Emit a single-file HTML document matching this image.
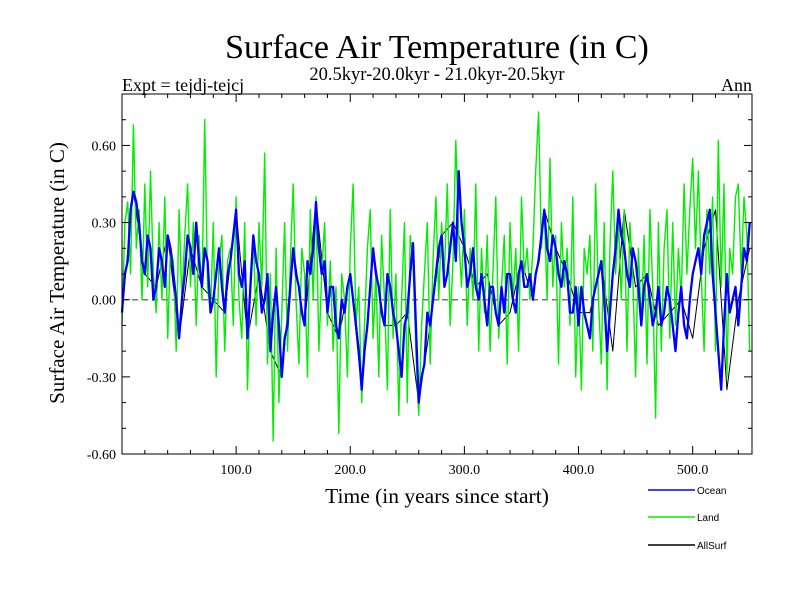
<!DOCTYPE html>
<html><head><meta charset="utf-8"><style>
body{margin:0;background:#fff;}
svg{display:block;font-family:"Liberation Serif",serif;}
</style></head><body>
<svg id="c" width="800" height="600">
<text x="437" y="58" text-anchor="middle" font-size="34">Surface Air Temperature (in C)</text>
<text x="437" y="80" text-anchor="middle" font-size="18.5">20.5kyr-20.0kyr - 21.0kyr-20.5kyr</text>
<text x="122" y="91" font-size="18">Expt = tejdj-tejcj</text>
<text x="752" y="91" text-anchor="end" font-size="18">Ann</text>
<text transform="translate(64,273) rotate(-90)" text-anchor="middle" font-size="21">Surface Air Temperature (in C)</text>
<text x="437" y="503" text-anchor="middle" font-size="21.5">Time (in years since start)</text>
<g id="plot"></g>
<g id="axes"></g>
<g id="legend" font-family="Liberation Sans, sans-serif" font-size="10"></g>
</svg>
<script>
const yTicks=[0.6,0.3,0.0,-0.3,-0.6];
const yTickLabels=["0.60","0.30","0.00","-0.30","-0.60"];
const xTicks=[100,200,300,400,500];
const xTickLabels=["100.0","200.0","300.0","400.0","500.0"];
const greenStep=2.5;
const landVals=[-0.1,0.3,0.38,0.1,0.68,0.2,0.35,0.0,0.45,0.05,0.5,0.1,-0.05,0.3,0.0,0.4,-0.15,0.2,0.15,-0.2,0.35,0.0,0.25,0.45,0.05,0.3,-0.1,0.25,0.0,0.7,0.05,-0.05,0.3,-0.3,0.15,0.25,-0.2,0.15,0.2,-0.1,0.4,0.0,-0.15,0.3,-0.35,0.1,0.25,-0.1,0.3,0.05,0.57,-0.25,0.1,-0.55,0.2,-0.4,-0.05,0.3,-0.2,0.15,0.45,0.0,-0.25,0.2,0.1,-0.3,0.35,0.0,0.4,-0.2,0.1,0.3,-0.1,0.15,-0.2,0.05,-0.52,0.1,0.0,-0.3,0.2,0.45,-0.1,0.05,-0.4,-0.1,0.2,0.35,-0.15,0.1,-0.3,0.25,0.0,-0.35,0.35,-0.15,0.1,-0.45,0.0,0.3,-0.4,0.25,0.15,-0.2,-0.45,-0.1,0.1,0.3,-0.25,0.15,0.4,0.0,0.3,0.1,0.45,-0.1,0.15,0.62,0.25,0.05,0.35,-0.1,0.2,0.0,0.45,-0.2,0.2,-0.05,0.25,-0.2,0.1,0.4,-0.15,0.05,0.25,-0.25,0.3,0.0,0.2,-0.2,0.4,0.1,0.2,0.0,0.2,0.5,0.73,0.2,0.35,0.0,0.55,0.05,0.25,-0.25,0.3,0.05,0.2,-0.1,0.4,-0.3,0.05,-0.35,0.2,0.1,0.25,-0.2,0.45,0.0,-0.25,0.3,-0.35,0.2,0.5,0.1,0.3,0.0,0.35,-0.2,0.3,0.1,-0.3,0.2,-0.1,0.25,-0.25,0.35,0.05,-0.46,0.3,-0.2,0.2,0.35,-0.15,0.3,-0.1,0.2,0.0,0.45,0.1,0.35,0.55,0.2,0.5,0.1,-0.2,0.35,0.1,0.4,-0.2,0.62,0.05,0.45,-0.3,0.2,0.1,0.4,0.45,0.1,0.4,0.25,-0.2];
const blueStep=2.5;
const oceanVals=[-0.05,0.1,0.15,0.35,0.42,0.38,0.3,0.15,0.1,0.25,0.2,0.0,0.05,0.2,0.15,0.05,0.25,0.2,0.1,0.0,-0.15,0.0,0.1,0.25,0.2,0.1,0.3,0.15,0.05,0.2,0.15,-0.05,0.0,0.1,0.2,0.05,-0.05,0.1,0.15,0.25,0.35,0.1,0.05,0.15,-0.15,0.05,0.25,0.15,0.1,-0.05,0.0,0.1,-0.2,-0.05,0.05,-0.1,-0.3,-0.15,-0.1,0.05,0.2,0.1,0.05,-0.05,-0.1,0.15,0.1,0.2,0.38,0.2,0.1,0.15,-0.05,0.05,0.05,-0.1,-0.15,0.0,-0.05,0.05,0.1,0.0,-0.1,-0.2,-0.35,-0.2,-0.1,0.05,0.2,0.1,0.05,-0.05,-0.1,0.1,0.05,-0.05,-0.1,-0.2,-0.3,-0.1,-0.05,0.1,0.22,-0.1,-0.4,-0.3,-0.25,-0.05,-0.1,0.0,0.1,0.2,0.25,0.05,0.1,0.2,0.3,0.15,0.5,0.3,0.2,0.05,0.1,0.2,0.05,0.0,0.1,0.0,-0.1,0.05,0.05,-0.05,-0.1,0.05,-0.05,0.1,0.1,0.0,-0.05,0.1,0.15,0.05,0.05,0.1,0.0,0.1,0.15,0.25,0.35,0.2,0.15,0.25,0.2,0.1,0.05,0.15,0.1,-0.05,-0.05,0.05,-0.1,0.05,-0.05,-0.1,-0.15,0.0,0.05,0.1,0.15,0.0,-0.2,-0.05,0.1,0.2,0.35,0.25,0.2,0.1,0.05,0.2,0.15,0.05,-0.1,0.05,0.1,0.0,-0.1,-0.05,0.05,-0.1,-0.05,0.05,0.0,-0.1,-0.2,-0.05,0.05,-0.1,-0.15,0.0,0.1,0.15,0.2,0.1,0.25,0.3,0.35,0.1,-0.05,-0.2,-0.35,-0.1,0.1,-0.05,0.0,0.05,-0.1,0.05,0.2,0.15,0.3];
const allStep=10;
const allVals=[-0.05,0.42,0.1,0.05,0.25,-0.15,0.2,0.05,0.0,-0.05,0.35,-0.15,0.1,-0.2,-0.3,0.2,-0.1,0.38,-0.05,-0.15,0.1,-0.35,0.2,-0.1,-0.1,-0.05,-0.4,-0.1,0.25,0.3,0.2,0.05,0.1,-0.1,-0.05,0.15,0.0,0.35,0.2,0.1,-0.05,-0.05,0.15,-0.2,0.35,0.05,0.1,-0.1,-0.05,0.0,-0.15,0.2,0.35,-0.35,0.0,0.2];
const X0=122,X1=752,Y0=94,Y1=454,XMIN=0,XMAX=552,YMIN=-0.6,YMAX=0.8;
const sx=v=>X0+(v-XMIN)/(XMAX-XMIN)*(X1-X0);
const sy=v=>Y1-(v-YMIN)/(YMAX-YMIN)*(Y1-Y0);
const NS="http://www.w3.org/2000/svg";
function mk(t,a,p){const e=document.createElementNS(NS,t);for(const k in a)e.setAttribute(k,a[k]);p.appendChild(e);return e;}
const plot=document.getElementById('plot'),axes=document.getElementById('axes'),leg=document.getElementById('legend');
const zl=mk('line',{x1:X0,x2:X1,y1:sy(0),y2:sy(0),stroke:'#777','stroke-width':1.5,'stroke-dasharray':'6,4'},plot);


function series(vals,step,color,w,name){
 const d=vals.map((v,i)=>(i?'L':'M')+sx(i*step).toFixed(1)+','+sy(v).toFixed(1)).join('');
 const p=mk('path',{d:d,fill:'none',stroke:color,'stroke-width':w,'stroke-linejoin':'round'},plot);
 
 
}
series(allVals,allStep,'#000',1,'allsurf-line');
series(landVals,greenStep,'#00ee00',1.4,'land-line');
series(oceanVals,blueStep,'#0000ff',2.3,'ocean-line');
const fr=mk('rect',{x:X0,y:Y0,width:X1-X0,height:Y1-Y0,fill:'none',stroke:'#000','stroke-width':1},axes);


for(let v=-0.6;v<=0.8001;v+=0.1){const y=sy(v);const maj=yTicks.some(t=>Math.abs(t-v)<1e-6);const L=maj?8:4;
 mk('line',{x1:X0,x2:X0+L,y1:y,y2:y,stroke:'#000'},axes);mk('line',{x1:X1,x2:X1-L,y1:y,y2:y,stroke:'#000'},axes);}
for(let v=20;v<XMAX;v+=20){const x=sx(v);const maj=v%100===0;const L=maj?8:4;
 mk('line',{x1:x,x2:x,y1:Y1,y2:Y1-L,stroke:'#000'},axes);mk('line',{x1:x,x2:x,y1:Y0,y2:Y0+L,stroke:'#000'},axes);}
yTicks.forEach((v,i)=>{const t=mk('text',{x:X0-6,y:sy(v)+5,'text-anchor':'end','font-size':14},axes);t.textContent=yTickLabels[i];
 
 });
xTicks.forEach((v,i)=>{const t=mk('text',{x:sx(v),y:Y1+20,'text-anchor':'middle','font-size':14},axes);t.textContent=xTickLabels[i];
 
 });
const legItems=[['Ocean','#0000ff',490],['Land','#00ee00',517],['AllSurf','#000',545]];
legItems.forEach(it=>{const g=mk('g',{},leg);
 
 
 mk('line',{x1:648,x2:695,y1:it[2],y2:it[2],stroke:it[1],'stroke-width':1.5},g);
 const t=mk('text',{x:697,y:it[2]+4},g);t.textContent=it[0];});
</script>
</body></html>
